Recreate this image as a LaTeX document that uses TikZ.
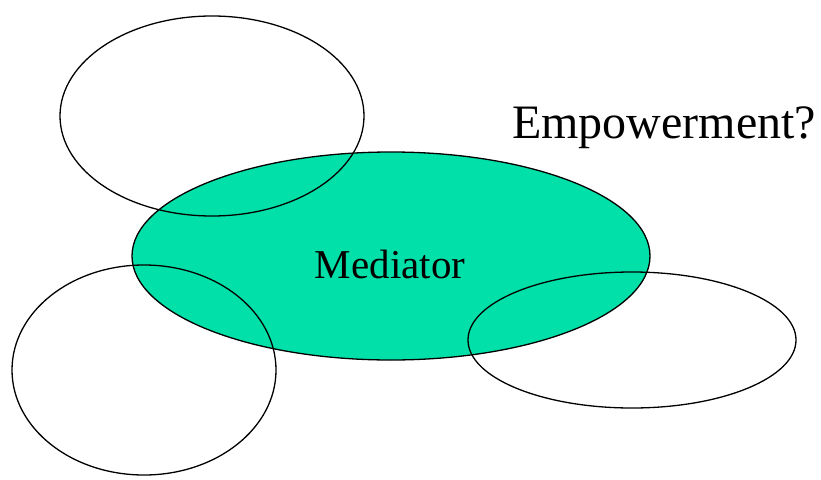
\documentclass[tikz,border=0pt]{standalone}
\usepackage{fontspec}
\setmainfont{Liberation Serif}
\definecolor{medgreen}{RGB}{0,224,168}
\tikzset{
  outline/.style={draw=black, line width=1.3pt},
  lbl/.style={inner sep=0pt, anchor=base}
}
\begin{document}
\begin{tikzpicture}[x=1pt,y=-1pt]
\useasboundingbox (0,0) rectangle (821,479);
% filled mediator
\fill[medgreen] (391,256) ellipse [x radius=259, y radius=104];
% outlines
\draw[outline] (391,256) ellipse [x radius=259, y radius=104];
\draw[outline] (212,116) ellipse [x radius=152, y radius=100];
\draw[outline] (144,370) ellipse [x radius=132, y radius=105];
\draw[outline] (632,340) ellipse [x radius=164, y radius=68];
\node[lbl, font=\fontsize{41}{45}\selectfont] (med) at (390,278) {Mediator};
\node[lbl, font=\fontsize{48}{52}\selectfont] (emp) at (664,138) {Empowerment?};
\end{tikzpicture}
\end{document}
